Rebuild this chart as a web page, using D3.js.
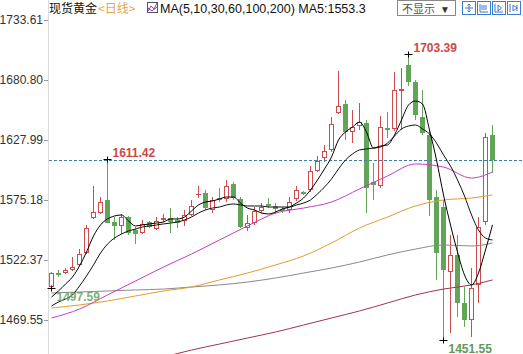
<!DOCTYPE html>
<html>
<head>
<meta charset="utf-8">
<script src="https://cdn.jsdelivr.net/npm/d3@7"></script>
<style>
body{margin:0;background:#fff;overflow:hidden}
svg{display:block;font-family:"Liberation Sans",Arial,sans-serif}
</style>
</head>
<body>
<svg id="chart" width="523" height="354"></svg>
<script>
// daily candles (oldest first)
var opens = [1498.6,1510.9,1510.9,1513.6,1518.0,1528.5,1559.3,1563.7,1575.2,1555.8,
  1552.3,1560.2,1548.8,1546.1,1555.8,1549.6,1557.6,1559.3,1557.6,1556.7,
  1562.0,1579.6,1581.3,1566.4,1576.9,1576.1,1589.3,1576.1,1550.5,1554.9,
  1565.5,1571.7,1569.9,1567.3,1566.4,1576.1,1582.2,1584.0,1600.7,1612.1,
  1619.2,1651.8,1659.7,1635.0,1640.3,1643.0,1591.0,1587.5,1638.5,1637.7,
  1671.1,1694.0,1679.0,1648.2,1632.4,1577.8,1569.0,1511.8,1526.8,1484.5,
  1469.6,1500.4,1555.8,1632.4];
var highs = [1511.8,1513.6,1515.3,1525.0,1532.0,1553.2,1587.5,1577.8,1611.42,1560.2,
  1562.9,1561.1,1551.4,1557.6,1556.7,1560.2,1562.9,1568.1,1560.2,1566.4,
  1575.2,1587.5,1584.0,1577.8,1585.7,1592.8,1591.0,1577.8,1562.0,1569.0,
  1572.5,1576.9,1572.5,1569.0,1577.8,1587.5,1583.1,1605.1,1613.9,1623.6,
  1648.2,1688.7,1663.2,1654.4,1660.6,1645.6,1607.7,1649.1,1652.6,1687.8,
  1691.4,1703.39,1680.8,1672.0,1636.8,1584.0,1575.2,1544.4,1544.4,1498.6,
  1515.3,1560.2,1634.1,1641.2];
var lows = [1497.59,1507.4,1510.0,1512.7,1517.1,1527.6,1558.5,1562.9,1554.5,1540.0,
  1545.2,1544.4,1536.4,1545.2,1550.5,1548.8,1555.8,1546.1,1550.5,1552.3,
  1561.1,1576.9,1566.4,1563.7,1573.4,1573.4,1575.2,1550.5,1547.9,1553.2,
  1563.7,1568.1,1562.9,1563.7,1563.7,1574.3,1579.6,1582.2,1599.8,1608.6,
  1617.4,1650.9,1628.0,1625.3,1636.8,1563.7,1575.2,1585.7,1629.7,1635.9,
  1636.8,1675.5,1645.6,1632.4,1561.1,1504.8,1451.55,1458.1,1472.2,1463.4,
  1454.6,1484.5,1553.2,1598.9];
var closes = [1510.9,1509.2,1513.6,1516.2,1527.6,1550.5,1564.6,1573.4,1554.9,1552.3,
  1560.2,1546.1,1545.2,1554.1,1551.4,1556.7,1559.3,1555.8,1554.9,1562.0,
  1569.9,1580.5,1568.1,1575.2,1575.2,1587.5,1576.9,1551.4,1554.9,1565.5,
  1569.0,1569.9,1567.3,1565.5,1573.4,1584.0,1580.5,1600.7,1609.5,1618.3,
  1642.1,1657.9,1635.0,1639.4,1643.8,1585.7,1588.4,1639.4,1636.8,1672.0,
  1672.9,1679.0,1650.0,1634.1,1575.2,1528.5,1513.6,1526.8,1484.5,1469.6,
  1497.7,1551.4,1630.6,1610.4];

// short averages, one value per candle
var ma5 = [1489.8,1495.1,1501.2,1507.4,1517.1,1529.4,1543.5,1553.2,1558.5,1561.1,
  1562.0,1556.7,1552.3,1553.2,1554.1,1554.9,1555.8,1558.5,1558.5,1560.2,
  1565.5,1570.8,1573.4,1574.3,1576.1,1577.8,1577.8,1572.5,1568.1,1566.4,
  1563.7,1562.9,1564.6,1567.3,1569.0,1572.5,1576.9,1584.0,1592.8,1602.5,
  1613.0,1628.0,1635.0,1639.4,1643.8,1635.0,1620.9,1622.7,1623.6,1632.4,
  1645.6,1658.8,1662.3,1659.7,1636.8,1610.4,1579.6,1553.2,1529.4,1509.2,
  1500.4,1510.9,1531.2,1553.3];
var ma10 = [1481.9,1485.4,1488.0,1491.6,1499.5,1508.3,1518.0,1528.5,1536.4,1541.7,
  1545.2,1547.9,1549.6,1551.4,1552.3,1553.2,1554.1,1554.9,1555.8,1557.6,
  1560.2,1563.7,1566.4,1568.1,1569.0,1570.8,1571.7,1570.8,1569.9,1569.9,
  1569.9,1569.0,1569.0,1569.0,1569.0,1570.8,1572.5,1575.2,1580.5,1586.6,
  1593.7,1602.5,1610.4,1615.7,1619.2,1620.1,1620.9,1621.8,1625.3,1631.5,
  1637.7,1640.3,1641.2,1637.7,1633.3,1625.3,1614.8,1605.1,1592.8,1578.7,
  1562.0,1548.8,1541.7,1540.0];

// long averages, read every 4th candle
var longIdx = [0,4,8,12,16,20,24,28,32,36,40,44,48,52,56,60,63];
var ma30 = [1471.3,1479.2,1491.6,1503.9,1516.2,1527.6,1540.0,1552.3,1563.7,1568.1,1573.4,1584.9,1596.3,1606.9,1604.2,1594.5,1599.8];
var ma60 = [1480.1,1482.8,1486.3,1490.7,1495.1,1498.6,1504.8,1510.9,1518.0,1525.9,1537.3,1550.5,1560.2,1569.9,1575.2,1576.9,1579.6];
var ma100 = [1493.3,1494.2,1495.1,1496.0,1496.8,1498.6,1500.4,1503.0,1506.5,1510.9,1515.3,1520.6,1526.8,1532.0,1535.6,1534.7,1537.3];
var ma200 = [1415.9,1421.1,1426.4,1431.7,1437.0,1443.1,1448.4,1453.7,1459.0,1465.1,1471.3,1477.5,1484.5,1491.6,1496.8,1500.4,1504.8];

var yTicks = [1469.55,1522.37,1575.18,1627.99,1680.80,1733.61];

var upColor = '#cc4d4d', downColor = '#62a558';

var svg = d3.select('#chart');
var n = closes.length;

var x = d3.scaleBand().domain(d3.range(n)).range([48, 496])
    .paddingInner(0.3).paddingOuter(0.15);
var y = d3.scaleLinear().domain([1469.55, 1733.61]).range([320, 20]);

function cx(i){ return Math.round(x(i) + x.bandwidth()/2 - 0.5) + 0.5; }
function py(v){ return Math.round(y(v)); }

svg.append('defs').append('clipPath').attr('id','clip')
  .append('rect').attr('x',49).attr('y',18).attr('width',474).attr('height',336);

// y axis
var yAxis = svg.append('g').attr('transform','translate(48,0)')
  .call(d3.axisLeft(y).tickValues(yTicks).tickFormat(d3.format('.2f')).tickSize(4).tickPadding(1));
yAxis.select('.domain').remove();
yAxis.selectAll('.tick line').attr('stroke','#999');
yAxis.selectAll('.tick text').attr('fill','#333').style('font-size','12px')
  .style('font-family','"Liberation Sans",Arial,sans-serif');
svg.append('line').attr('x1',48.5).attr('x2',48.5).attr('y1',0).attr('y2',354)
  .attr('stroke','#dcdcdc');

var plot = svg.append('g').attr('clip-path','url(#clip)');

// candles
var rows = d3.range(n).map(function(i){
  return {i:i, o:opens[i], h:highs[i], l:lows[i], c:closes[i]};
});
var cg = plot.append('g').selectAll('g').data(rows).enter().append('g');
cg.each(function(d){
  var g = d3.select(this);
  var up = d.c >= d.o;
  var xc = cx(d.i);
  var top = py(Math.max(d.o,d.c)), bot = py(Math.min(d.o,d.c));
  var col = up ? upColor : downColor;
  if (up) {
    g.append('line').attr('x1',xc).attr('x2',xc).attr('y1',py(d.h)).attr('y2',top).attr('stroke',col);
    g.append('line').attr('x1',xc).attr('x2',xc).attr('y1',bot).attr('y2',py(d.l)).attr('stroke',col);
    if (bot - top < 2) {
      g.append('line').attr('x1',xc-2.5).attr('x2',xc+2.5).attr('y1',top+0.5).attr('y2',top+0.5).attr('stroke',col);
    } else {
      g.append('rect').attr('x',xc-2).attr('y',top+0.5).attr('width',4).attr('height',bot-top-1)
        .attr('fill','#fff').attr('stroke',col);
    }
  } else {
    g.append('line').attr('x1',xc).attr('x2',xc).attr('y1',py(d.h)).attr('y2',py(d.l)).attr('stroke',col);
    g.append('rect').attr('x',xc-2.5).attr('y',top).attr('width',5).attr('height',Math.max(bot-top,2))
      .attr('fill',col);
  }
});

// latest price line
plot.append('line').attr('x1',49).attr('x2',523)
  .attr('y1',py(closes[n-1])+0.5).attr('y2',py(closes[n-1])+0.5)
  .attr('stroke','#3f7f9f').attr('stroke-dasharray','3,2');

// moving averages
var lineGen = d3.line().x(function(d){ return x(d[0]) + x.bandwidth()/2; })
  .y(function(d){ return y(d[1]); }).curve(d3.curveMonotoneX);

var series = [
  {vals: ma200, idx: longIdx, color:'#a0344c'},
  {vals: ma100, idx: longIdx, color:'#8a8a8a'},
  {vals: ma60, idx: longIdx, color:'#e69a2e'},
  {vals: ma30, idx: longIdx, color:'#c83cc8'},
  {vals: ma10, idx: d3.range(n), color:'#111'},
  {vals: ma5, idx: d3.range(n), color:'#000'}
];
series.forEach(function(s){
  var pts = s.idx.map(function(k, j){ return [k, s.vals[j]]; });
  plot.append('path').attr('d', lineGen(pts)).attr('fill','none')
    .attr('stroke', s.color).attr('stroke-width',1);
});

// extreme marks
var marks = [
  {i:8, v:1611.42, side:'high', color:'#cf4646'},
  {i:51, v:1703.39, side:'high', color:'#cf4646'},
  {i:56, v:1451.55, side:'low', color:'#5e9c55'},
  {i:0, v:1497.59, side:'low', color:'#6aa262'}
];
marks.forEach(function(m){
  var xc = cx(m.i), yy = py(m.v) + 0.5;
  svg.append('path').attr('d','M'+(xc-4)+','+yy+'H'+(xc+4)+'M'+xc+','+(yy-3)+'V'+(yy+3))
    .attr('stroke','#000').attr('fill','none');
  svg.append('text').attr('x', xc + 5)
    .attr('y', m.side == 'high' ? yy - 3 : yy + 12)
    .attr('fill', m.color).style('font-size','12px').style('font-weight','bold')
    .attr('opacity', m.i == 0 ? 0.85 : 1)
    .text(m.v.toFixed(2));
});

// header
var head = svg.append('g');
head.append('text').attr('x',49).attr('y',13).style('font-family','"Noto Sans CJK SC",sans-serif')
  .style('font-size','12px').attr('fill','#111').text('现货黄金');
head.append('text').attr('x',98).attr('y',13).style('font-family','"Noto Sans CJK SC",sans-serif')
  .style('font-size','12px').attr('fill','#e5a54a').text('<日线>');
head.append('rect').attr('x',147.5).attr('y',2.5).attr('width',10).attr('height',10)
  .attr('fill','#fff').attr('stroke','#555');
head.append('path').attr('d','M148,11 L151,6 L154,9 L157,3 M148,8 L152,11 L157,7')
  .attr('stroke','#8a3fb0').attr('fill','none');
head.append('text').attr('x',160).attr('y',13).style('font-size','12.5px').attr('fill','#111')
  .text('MA(5,10,30,60,100,200) MA5:' + ma5[n-1].toFixed(1));

head.append('rect').attr('x',397.5).attr('y',0.5).attr('width',58).attr('height',15)
  .attr('fill','#fff').attr('stroke','#888');
head.append('text').attr('x',402).attr('y',13).style('font-family','"Noto Sans CJK SC",sans-serif')
  .style('font-size','11px').attr('fill','#555').text('不显示');
head.append('text').attr('x',440).attr('y',12.5).style('font-size','10px').attr('fill','#333').text('▼');

var icons = [462, 477, 492, 507];
icons.forEach(function(ix, k){
  var g = head.append('g').attr('transform','translate('+ix+',1)');
  g.append('rect').attr('x',0.5).attr('y',0.5).attr('width',13).attr('height',13)
    .attr('fill','#fff').attr('stroke','#3b7bd0');
  var d;
  if (k == 0) d = 'M7,3V11M3,7H11M5.5,4.5L7,3L8.5,4.5M5.5,9.5L7,11L8.5,9.5';
  else if (k == 1) d = 'M3,3V11H11M5,4V9M7,4V9M9,4V9';
  else if (k == 2) d = 'M3,3V11H11M6,4L9.5,7L6,10Z';
  else d = 'M3,3V11M6,4L10,7L6,10Z M10,4V10';
  g.append('path').attr('d', d).attr('stroke','#3b7bd0').attr('fill','none');
});
</script>
</body>
</html>
